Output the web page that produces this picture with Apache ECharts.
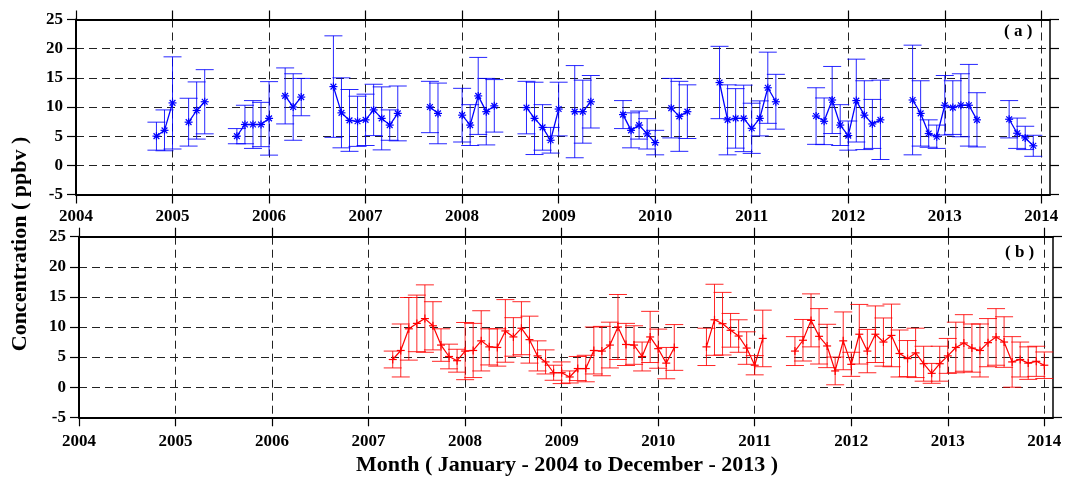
<!DOCTYPE html>
<html>
<head>
<meta charset="utf-8">
<script src="https://cdn.jsdelivr.net/npm/echarts@6/dist/echarts.min.js"></script>
<style>
  html, body { margin: 0; padding: 0; background: #fff; }
  #chart { width: 1067px; height: 479px; }
</style>
</head>
<body>
<div id="chart"></div>
<script>
// Panel (a): monthly mean concentration (ppbv) with one-sigma spread
const monthsA = ['2004-11','2004-12','2005-01','2005-03','2005-04','2005-05',
  '2005-09','2005-10','2005-11','2005-12','2006-01','2006-03','2006-04','2006-05',
  '2006-09','2006-10','2006-11','2006-12','2007-01','2007-02','2007-03','2007-04','2007-05',
  '2007-09','2007-10','2008-01','2008-02','2008-03','2008-04','2008-05',
  '2008-09','2008-10','2008-11','2008-12','2009-01','2009-03','2009-04','2009-05',
  '2009-09','2009-10','2009-11','2009-12','2010-01','2010-03','2010-04','2010-05',
  '2010-09','2010-10','2010-11','2010-12','2011-01','2011-02','2011-03','2011-04',
  '2011-09','2011-10','2011-11','2011-12','2012-01','2012-02','2012-03','2012-04','2012-05',
  '2012-09','2012-10','2012-11','2012-12','2013-01','2013-02','2013-03','2013-04','2013-05',
  '2013-09','2013-10','2013-11','2013-12'];
const valuesA = [5.0, 6.0, 10.7, 7.4, 9.4, 10.9,
  5.0, 7.0, 7.0, 7.0, 8.05, 11.9, 10.0, 11.7,
  13.5, 9.0, 7.7, 7.55, 7.8, 9.5, 8.05, 6.9, 8.9,
  10.0, 8.9, 8.6, 6.9, 11.9, 9.2, 10.2,
  9.9, 8.05, 6.5, 4.3, 9.65, 9.2, 9.2, 10.9,
  8.7, 6.0, 6.9, 5.4, 3.9, 9.8, 8.4, 9.2,
  14.2, 7.8, 8.05, 8.05, 6.35, 8.05, 13.3, 10.9,
  8.45, 7.55, 11.2, 6.9, 5.1, 11.1, 8.6, 7.1, 7.8,
  11.2, 8.9, 5.45, 4.9, 10.3, 9.9, 10.3, 10.3, 7.8,
  7.9, 5.5, 4.7, 3.35];
const errorsA = [2.4, 3.5, 7.9, 4.1, 4.9, 5.5,
  1.3, 3.3, 4.1, 3.8, 6.3, 4.8, 5.7, 3.2,
  8.7, 6.0, 5.3, 4.3, 4.4, 4.4, 5.4, 2.6, 4.7,
  4.4, 5.2, 4.6, 3.5, 6.6, 5.7, 4.5,
  4.5, 6.2, 3.9, 2.2, 4.6, 7.9, 5.4, 4.5,
  2.4, 3.0, 2.4, 2.6, 2.1, 5.1, 6.0, 4.6,
  6.2, 6.0, 5.1, 5.7, 4.3, 3.0, 6.1, 4.7,
  4.85, 4.0, 5.75, 3.5, 2.5, 7.1, 5.9, 4.2, 6.8,
  9.4, 5.6, 2.35, 2.0, 5.1, 4.6, 5.4, 7.0, 4.65,
  3.2, 2.6, 2.0, 1.8];

// Panel (b): monthly mean concentration (ppbv) with one-sigma spread
const monthsB = ['2007-04','2007-05','2007-06','2007-07','2007-08','2007-09','2007-10','2007-11','2007-12',
  '2008-01','2008-02','2008-03','2008-04','2008-05','2008-06','2008-07','2008-08','2008-09','2008-10','2008-11','2008-12',
  '2009-01','2009-02','2009-03','2009-04','2009-05','2009-06','2009-07','2009-08','2009-09','2009-10','2009-11','2009-12',
  '2010-01','2010-02','2010-03','2010-07','2010-08','2010-09','2010-10','2010-11','2010-12',
  '2011-01','2011-02','2011-06','2011-07','2011-08','2011-09','2011-10','2011-11','2011-12',
  '2012-01','2012-02','2012-03','2012-04','2012-05','2012-06','2012-07','2012-08','2012-09','2012-10','2012-11','2012-12',
  '2013-01','2013-02','2013-03','2013-04','2013-05','2013-06','2013-07','2013-08','2013-09','2013-10','2013-11','2013-12',
  '2014-01'];
const valuesB = [4.6, 6.1, 9.7, 10.6, 11.4, 10.2, 7.0, 5.1, 4.4,
  6.0, 6.1, 7.7, 6.7, 6.6, 9.35, 8.35, 9.8, 7.9, 5.2, 4.2, 2.4,
  2.4, 1.7, 3.1, 3.1, 6.1, 6.0, 7.0, 10.0, 7.1, 7.0, 5.1, 8.35,
  6.4, 4.0, 6.6, 6.7, 11.2, 10.55, 9.45, 8.5, 6.5,
  3.65, 8.1, 6.0, 7.8, 11.1, 8.45, 6.85, 2.7, 7.7,
  3.8, 8.8, 6.0, 8.8, 7.5, 8.6, 5.6, 4.75, 5.7, 3.9, 2.3, 3.9,
  5.2, 6.6, 7.35, 6.5, 6.1, 7.4, 8.35, 7.5, 4.2, 4.6, 4.0, 4.3,
  3.65];
const errorsB = [1.4, 4.4, 5.2, 4.7, 5.6, 4.0, 2.7, 2.05, 1.9,
  4.75, 4.5, 5.0, 3.0, 3.1, 5.2, 3.2, 4.4, 3.9, 2.5, 2.0, 1.25,
  1.8, 1.0, 2.0, 2.2, 3.9, 4.1, 3.8, 5.4, 3.5, 3.2, 2.4, 4.25,
  3.25, 2.6, 3.8, 3.1, 5.9, 5.2, 2.8, 2.7, 2.7,
  1.6, 4.7, 2.4, 3.45, 4.4, 4.6, 3.6, 2.3, 4.8,
  2.0, 4.95, 3.6, 4.7, 4.0, 5.2, 3.9, 3.0, 4.1, 2.9, 1.65, 2.9,
  2.9, 4.2, 4.7, 4.0, 4.4, 4.0, 4.7, 4.2, 4.2, 2.9, 2.7, 2.5,
  2.2];

const yearTicks = [2004, 2005, 2006, 2007, 2008, 2009, 2010, 2011, 2012, 2013, 2014];

const FONT = 'Liberation Serif';
const BLUE = '#0000ff';
const RED = '#ff0000';

// month string -> decimal year (January sits on the year line)
function toYear(m) {
  const [y, mo] = m.split('-').map(Number);
  return y + (mo - 1) / 12;
}
function monthIndex(m) {
  const [y, mo] = m.split('-').map(Number);
  return y * 12 + (mo - 1);
}

// Line data with breaks wherever a month is missing
function lineData(months, values) {
  const out = [];
  for (let i = 0; i < months.length; i++) {
    if (i > 0 && monthIndex(months[i]) - monthIndex(months[i - 1]) > 1) {
      out.push([(toYear(months[i]) + toYear(months[i - 1])) / 2, null]);
    }
    out.push([toYear(months[i]), values[i]]);
  }
  return out;
}
function errData(months, values, errors) {
  return months.map((m, i) => [toYear(m), values[i], errors[i]]);
}

// Error bar with caps plus a stroked marker ('*' or '+')
function errRenderer(color, star) {
  return function (params, api) {
    const x = api.value(0), y = api.value(1), e = api.value(2);
    const c = api.coord([x, y]);
    const hi = api.coord([x, y + e]);
    const lo = api.coord([x, y - e]);
    const w = 9;
    const st = { stroke: color, lineWidth: 1, opacity: 0.85 };
    const ms = { stroke: color, lineWidth: 1.2 };
    const r = 4;
    const kids = [
      { type: 'line', shape: { x1: c[0], y1: hi[1], x2: c[0], y2: lo[1] }, style: st },
      { type: 'line', shape: { x1: c[0] - w, y1: hi[1], x2: c[0] + w, y2: hi[1] }, style: st },
      { type: 'line', shape: { x1: c[0] - w, y1: lo[1], x2: c[0] + w, y2: lo[1] }, style: st },
      { type: 'line', shape: { x1: c[0] - r, y1: c[1], x2: c[0] + r, y2: c[1] }, style: ms },
      { type: 'line', shape: { x1: c[0], y1: c[1] - r, x2: c[0], y2: c[1] + r }, style: ms }
    ];
    if (star) {
      const d = r * 0.72;
      kids.push({ type: 'line', shape: { x1: c[0] - d, y1: c[1] - d, x2: c[0] + d, y2: c[1] + d }, style: ms });
      kids.push({ type: 'line', shape: { x1: c[0] - d, y1: c[1] + d, x2: c[0] + d, y2: c[1] - d }, style: ms });
    }
    return { type: 'group', children: kids };
  };
}

const dashed = { show: true, lineStyle: { color: '#222', width: 1, type: [8, 5] } };
const solidAxis = { show: true, onZero: false, lineStyle: { color: '#000', width: 2 } };
const tickOut = { show: true, inside: false, length: 9, lineStyle: { color: '#000', width: 1.2 } };
const yearTickOut = Object.assign({ customValues: yearTicks }, tickOut);
const labelStyle = { color: '#000', fontFamily: FONT, fontWeight: 'bold', fontSize: 17 };

function xAxes(gridIndex, margin) {
  return [
    {
      type: 'value', gridIndex, position: 'bottom', min: 2004, max: 2014.09, interval: 1,
      axisLine: solidAxis, axisTick: yearTickOut, splitLine: dashed,
      axisLabel: Object.assign({ margin, customValues: yearTicks, formatter: v => String(Math.round(v)) }, labelStyle)
    },
    {
      type: 'value', gridIndex, position: 'top', min: 2004, max: 2014.09, interval: 1,
      axisLine: solidAxis, axisTick: yearTickOut, splitLine: { show: false }, axisLabel: { show: false }
    }
  ];
}
function yAxes(gridIndex) {
  return [
    {
      type: 'value', gridIndex, position: 'left', min: -5, max: 25, interval: 5,
      axisLine: solidAxis, axisTick: tickOut, splitLine: dashed,
      axisLabel: Object.assign({ margin: 13 }, labelStyle)
    },
    {
      type: 'value', gridIndex, position: 'right', min: -5, max: 25, interval: 5,
      axisLine: { show: true, onZero: false, lineStyle: { color: '#000', width: 1.5 } },
      axisTick: tickOut, splitLine: { show: false }, axisLabel: { show: false }
    }
  ];
}

const chart = echarts.init(document.getElementById('chart'), null, { renderer: 'canvas' });
chart.setOption({
  backgroundColor: '#fff',
  animation: false,
  grid: [
    { left: 76, top: 19.5, width: 974, height: 175 },
    { left: 79, top: 236.7, width: 974, height: 180.6 }
  ],
  xAxis: [...xAxes(0, 14), ...xAxes(1, 16)],
  yAxis: [...yAxes(0), ...yAxes(1)],
  series: [
    {
      type: 'line', xAxisIndex: 0, yAxisIndex: 0, data: lineData(monthsA, valuesA),
      showSymbol: false, symbol: 'none', connectNulls: false,
      lineStyle: { color: BLUE, width: 1.3 }, z: 3
    },
    {
      type: 'custom', xAxisIndex: 0, yAxisIndex: 0, data: errData(monthsA, valuesA, errorsA),
      renderItem: errRenderer(BLUE, true), encode: { x: 0, y: 1 }, z: 4
    },
    {
      type: 'line', xAxisIndex: 2, yAxisIndex: 2, data: lineData(monthsB, valuesB),
      showSymbol: false, symbol: 'none', connectNulls: false,
      lineStyle: { color: RED, width: 1.2 }, z: 3
    },
    {
      type: 'custom', xAxisIndex: 2, yAxisIndex: 2, data: errData(monthsB, valuesB, errorsB),
      renderItem: errRenderer(RED, false), encode: { x: 0, y: 1 }, z: 4
    }
  ],
  graphic: [
    {
      type: 'text', left: 1004, top: 23,
      style: { text: '( a )', fontFamily: FONT, fontWeight: 'bold', fontSize: 17, fill: '#000' }
    },
    {
      type: 'text', left: 1005, top: 244,
      style: { text: '( b )', fontFamily: FONT, fontWeight: 'bold', fontSize: 17, fill: '#000' }
    },
    {
      type: 'text', x: 20, y: 244, rotation: Math.PI / 2,
      style: { text: 'Concentration ( ppbv )', fontFamily: FONT, fontWeight: 'bold', fontSize: 22, fill: '#000', align: 'center', verticalAlign: 'middle' }
    },
    {
      type: 'text', x: 567, y: 465,
      style: { text: 'Month ( January - 2004 to December - 2013 )', fontFamily: FONT, fontWeight: 'bold', fontSize: 22, fill: '#000', align: 'center', verticalAlign: 'middle' }
    }
  ]
});
</script>
</body>
</html>
